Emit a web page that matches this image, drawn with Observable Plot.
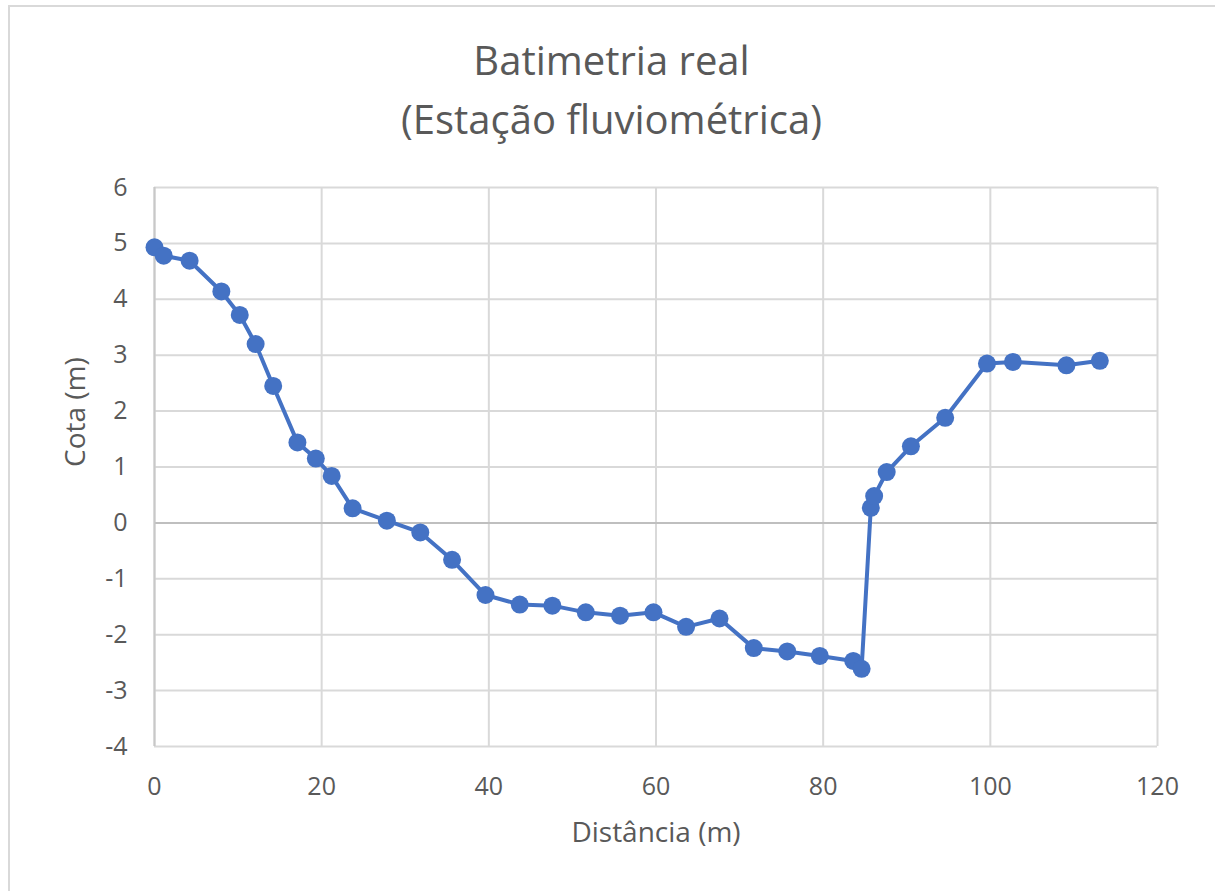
<!DOCTYPE html>
<html>
<head>
<meta charset="utf-8">
<script src="https://cdn.jsdelivr.net/npm/d3@7"></script>
<script src="https://cdn.jsdelivr.net/npm/@observablehq/plot@0.6"></script>
<style>
  html, body { margin: 0; padding: 0; background: #fff; }
  #wrap { position: relative; width: 1215px; height: 891px; overflow: hidden; font-family: "Open Sans", sans-serif; color: #595959; }
  #frame { position: absolute; left: 8px; top: 5px; width: 1210px; height: 890px; border: 2px solid #d9d9d9; box-sizing: border-box; pointer-events: none; }
  #title { position: relative; height: 150px; }
  #title div { position: absolute; left: 8px; right: 0; text-align: center; font-size: 40px; line-height: 59px; white-space: nowrap; }
  #chart svg { display: block; }
</style>
</head>
<body>
<div id="wrap">
  <div id="frame"></div>
  <div id="title">
    <div style="top:30px">Batimetria real</div>
    <div style="top:89px">(Estação fluviométrica)</div>
  </div>
  <div id="chart"></div>
</div>
<script>
const distancia = [0, 1.1, 4.2, 8.0, 10.2, 12.1, 14.2, 17.1, 19.3, 21.2, 23.7, 27.8, 31.8, 35.6, 39.6, 43.7, 47.6, 51.6, 55.7, 59.7, 63.6, 67.6, 71.7, 75.7, 79.6, 83.6, 84.6, 85.7, 86.1, 87.6, 90.5, 94.6, 99.6, 102.7, 109.1, 113.1];
const cota = [4.93, 4.78, 4.69, 4.14, 3.72, 3.20, 2.45, 1.44, 1.15, 0.84, 0.26, 0.04, -0.17, -0.66, -1.29, -1.46, -1.48, -1.60, -1.66, -1.60, -1.86, -1.71, -2.24, -2.30, -2.38, -2.47, -2.61, 0.27, 0.48, 0.91, 1.37, 1.88, 2.85, 2.88, 2.82, 2.90];
const xTicks = [0, 20, 40, 60, 80, 100, 120];
const yTicks = [-4, -3, -2, -1, 0, 1, 2, 3, 4, 5, 6];
const xLabel = "Distância (m)";
const yLabel = "Cota (m)";

const data = distancia.map((d, i) => ({x: d, y: cota[i]}));
const blue = "#4472C4";

const chart = Plot.plot({
  width: 1215,
  height: 741,
  marginTop: 37,
  marginBottom: 145,
  marginLeft: 154,
  marginRight: 58,
  style: {fontFamily: "Open Sans, sans-serif", color: "#595959", background: "transparent", overflow: "visible"},
  x: {domain: [0, 120], ticks: xTicks},
  y: {domain: [-4, 6], ticks: yTicks},
  marks: [
    Plot.gridX(xTicks, {stroke: "#d9d9d9", strokeOpacity: 1, strokeWidth: 2}),
    Plot.gridY(yTicks, {stroke: "#d9d9d9", strokeOpacity: 1, strokeWidth: 2}),
    Plot.ruleY([0], {stroke: "#bfbfbf", strokeWidth: 2}),
    Plot.ruleX([0], {stroke: "#c8c8c8", strokeWidth: 2}),
    Plot.axisX(xTicks, {tickSize: 0, tickPadding: 31, fontSize: 25, label: null, fill: "#595959"}),
    Plot.axisY(yTicks, {tickSize: 0, tickPadding: 27, fontSize: 25, label: null, fill: "#595959", tickFormat: d => d < 0 ? "-" + Math.abs(d) : String(d)}),
    Plot.text([xLabel], {frameAnchor: "bottom", dy: 87, fontSize: 28, lineAnchor: "middle", fill: "#595959"}),
    Plot.text([yLabel], {frameAnchor: "left", dx: -78, rotate: -90, fontSize: 28, lineAnchor: "middle", fill: "#595959"}),
    Plot.line(data, {x: "x", y: "y", stroke: blue, strokeWidth: 4}),
    Plot.dot(data, {x: "x", y: "y", r: 9, fill: blue, stroke: blue, strokeWidth: 0})
  ]
});
document.getElementById("chart").appendChild(chart);
</script>
</body>
</html>
